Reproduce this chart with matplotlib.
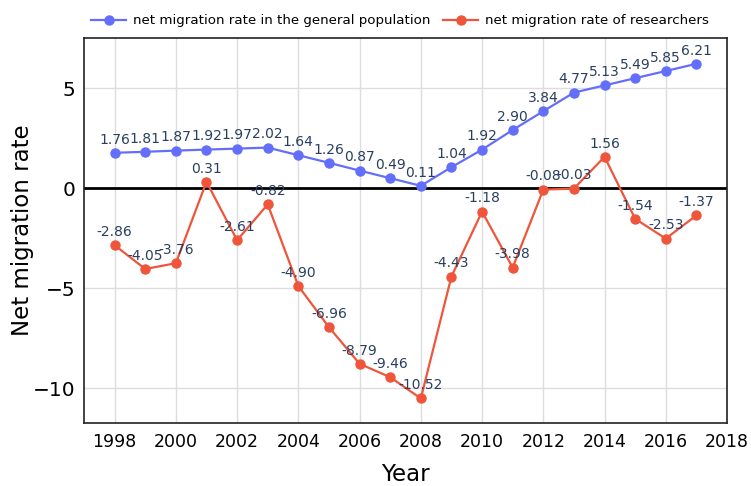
import matplotlib
matplotlib.use("Agg")
import matplotlib.pyplot as plt

years = list(range(1998, 2018))
general = [1.76, 1.81, 1.87, 1.92, 1.97, 2.02, 1.64, 1.26, 0.87, 0.49, 0.11,
           1.04, 1.92, 2.90, 3.84, 4.77, 5.13, 5.49, 5.85, 6.21]
researchers = [-2.86, -4.05, -3.76, 0.31, -2.61, -0.82, -4.90, -6.96, -8.79, -9.46,
               -10.52, -4.43, -1.18, -3.98, -0.08, -0.03, 1.56, -1.54, -2.53, -1.37]
xticks = list(range(1998, 2019, 2))
yticks = [-10, -5, 0, 5]

plt.rcParams['font.family'] = ['DejaVu Sans']
fig = plt.figure(figsize=(7.51, 4.86), dpi=100)
ax = fig.add_axes([84/751, 63/486, (727-84)/751, (423-38)/486])

blue = '#636EFA'
red = '#EF553B'
txt = '#2a3f5f'

ax.plot(years, general, color=blue, lw=1.6, marker='o', ms=6.5, zorder=3,
        label='net migration rate in the general population')
ax.plot(years, researchers, color=red, lw=1.6, marker='o', ms=6.5, zorder=3,
        label='net migration rate of researchers')

for x, y in zip(years, general):
    ax.annotate(f'{y:.2f}', (x, y), xytext=(0, 4.5), textcoords='offset points',
                ha='center', va='bottom', fontsize=10, color=txt, zorder=4)
for x, y in zip(years, researchers):
    ax.annotate(f'{y:.2f}', (x, y), xytext=(0, 4.5), textcoords='offset points',
                ha='center', va='bottom', fontsize=10, color=txt, zorder=4)

ax.axhline(0, color='black', lw=2, zorder=2)
ax.set_xlim(1997, 2018)
ax.set_ylim(-11.75, 7.5)
ax.set_xticks(xticks)
ax.set_yticks(yticks)
ax.set_yticklabels(['\u221210', '\u22125', '0', '5'])
ax.tick_params(axis='x', labelsize=12.5, length=0, pad=7)
ax.tick_params(axis='y', labelsize=14.5, length=0, pad=6)
ax.grid(True, color='#dddddd', lw=1, zorder=0)
for s in ax.spines.values():
    s.set_color('#222222')
    s.set_linewidth(1.2)
ax.set_xlabel('Year', fontsize=16.5, labelpad=9)
ax.set_ylabel('Net migration rate', fontsize=16.5, labelpad=-1)

ax.legend(loc='lower left', bbox_to_anchor=(-0.005, 1.0), ncol=2, frameon=False,
          fontsize=9.6, handlelength=2.6, columnspacing=1.0, handletextpad=0.5,
          borderaxespad=0.4)

fig.savefig('out.png', dpi=100)
